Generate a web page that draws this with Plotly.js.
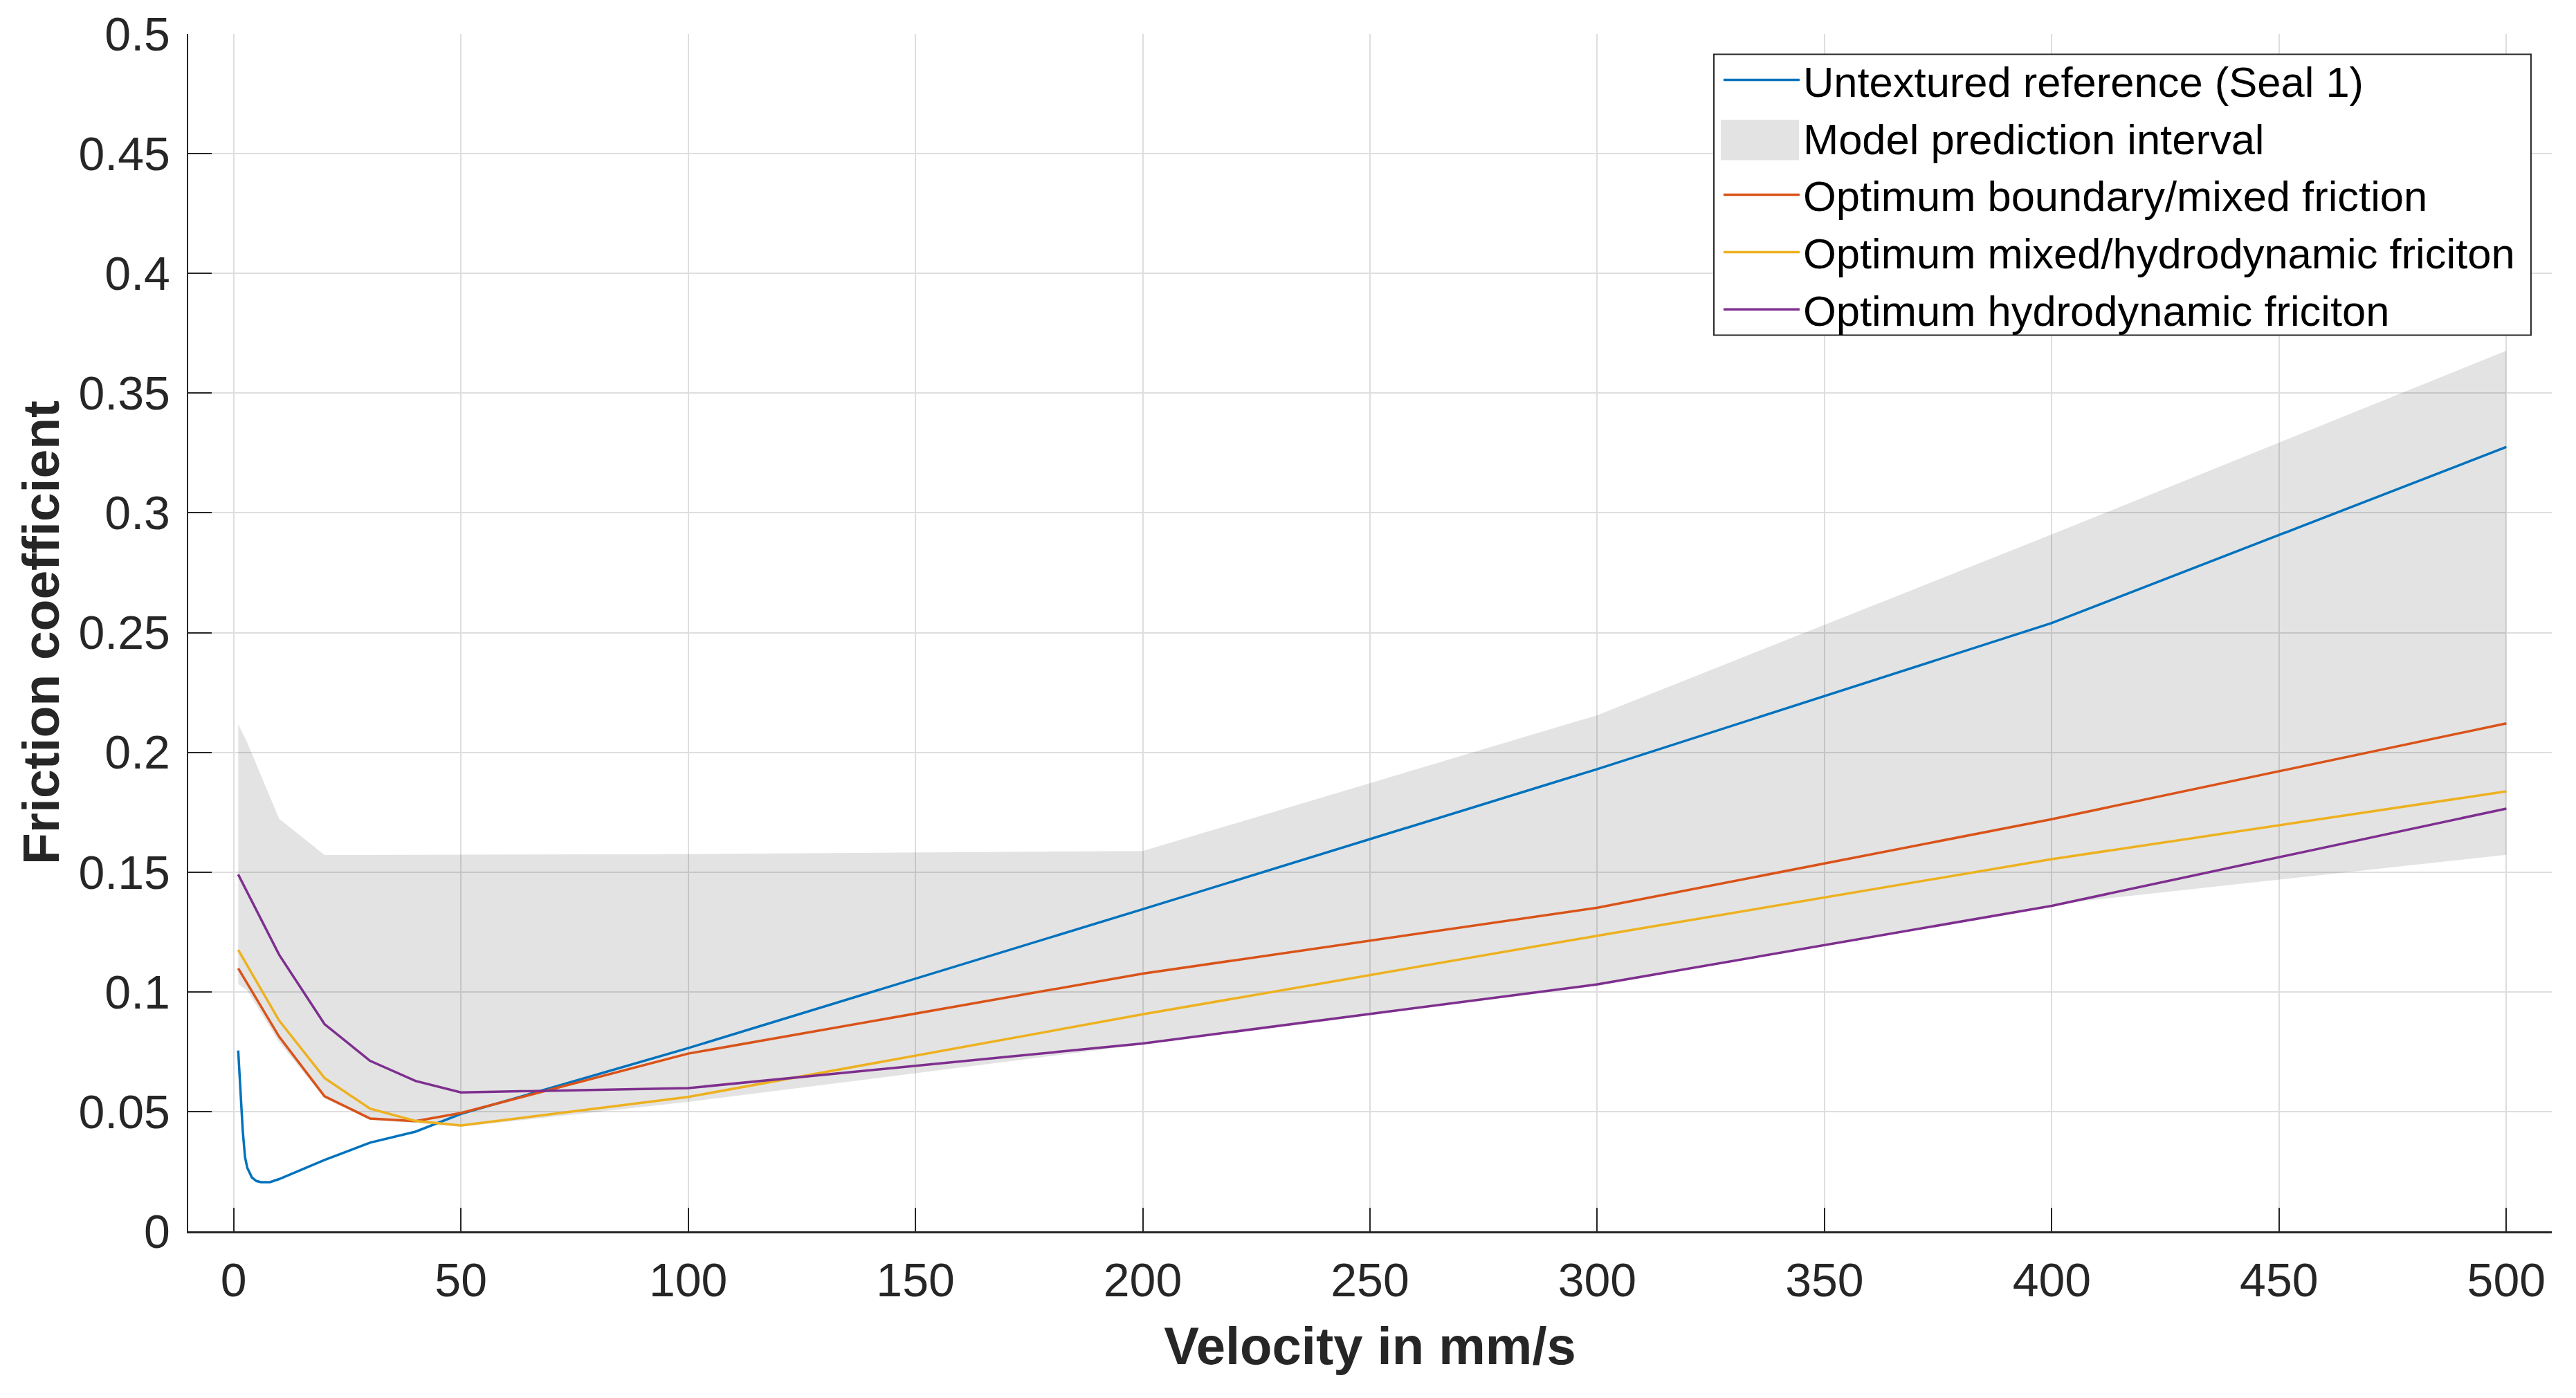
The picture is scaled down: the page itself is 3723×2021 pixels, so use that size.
<!DOCTYPE html>
<html>
<head>
<meta charset="utf-8">
<script src="https://cdn.plot.ly/plotly-3.0.1.min.js"></script>
<style>
html,body{margin:0;padding:0;background:#fff;}
#chart{width:3723px;height:2021px;}
</style>
</head>
<body>
<div id="chart"></div>
<script>
// ---- data ----
var velBlue = [1, 1.5, 2, 2.5, 3, 4, 5, 6, 8, 10, 20, 30, 40, 50, 100, 200, 300, 400, 500];
var fricBlue = [0.0755, 0.058, 0.042, 0.031, 0.0265, 0.0225, 0.021, 0.0205, 0.0205, 0.0218, 0.0298, 0.037, 0.0416, 0.049, 0.0765, 0.1345, 0.193, 0.254, 0.3275];

var velOpt = [1, 10, 20, 30, 40, 50, 100, 200, 300, 400, 500];
var fricBoundaryMixed = [0.1098, 0.0813, 0.0564, 0.0471, 0.0460, 0.0494, 0.0742, 0.1076, 0.1351, 0.1721, 0.2121];
var fricMixedHydro = [0.1175, 0.0880, 0.0640, 0.0512, 0.0461, 0.0442, 0.0561, 0.0906, 0.1234, 0.1554, 0.1837];
var fricHydro = [0.1490, 0.1155, 0.0865, 0.0712, 0.0628, 0.0580, 0.0598, 0.0784, 0.1031, 0.1359, 0.1765];

var velBandUpper = [1, 3, 10, 20, 100, 200, 300, 400, 500];
var fricBandUpper = [0.2117, 0.2040, 0.1723, 0.1571, 0.1575, 0.1588, 0.2155, 0.2910, 0.3677];
var velBandLower = [1, 3, 10, 20, 30, 40, 50, 100, 200, 300, 400, 500];
var fricBandLower = [0.1033, 0.1005, 0.0790, 0.0555, 0.0465, 0.0452, 0.0436, 0.0540, 0.0780, 0.1025, 0.1365, 0.1572];

var xTicks = [0, 50, 100, 150, 200, 250, 300, 350, 400, 450, 500];
var yTicks = [0, 0.05, 0.1, 0.15, 0.2, 0.25, 0.3, 0.35, 0.4, 0.45, 0.5];
var yTickText = ['0', '0.05', '0.1', '0.15', '0.2', '0.25', '0.3', '0.35', '0.4', '0.45', '0.5'];

var names = ['Untextured reference (Seal 1)', 'Model prediction interval',
  'Optimum boundary/mixed friction', 'Optimum mixed/hydrodynamic friciton', 'Optimum hydrodynamic friciton'];
var colors = ['#0072BD', '#D95319', '#EDB120', '#7E2F8E'];
var bandFill = 'rgba(0,0,0,0.11)';

// closed polygon for the prediction band
var bandX = velBandUpper.concat(velBandLower.slice().reverse());
var bandY = fricBandUpper.concat(fricBandLower.slice().reverse());

var lw = 3.5;
var bandTrace = {x: bandX, y: bandY, type: 'scatter', mode: 'lines', name: names[1],
  fill: 'toself', fillcolor: bandFill, line: {width: 0, color: 'rgba(0,0,0,0)'},
  showlegend: false, hoverinfo: 'skip'};
// legend entry for the band (its swatch is drawn as a box below)
var bandLegend = {x: [null], y: [null], type: 'scatter', mode: 'lines', name: names[1],
  line: {width: 0, color: 'rgba(0,0,0,0)'}, legendrank: 2};

var traces = [
  bandTrace,
  {x: velBlue, y: fricBlue, type: 'scatter', mode: 'lines', name: names[0],
   line: {color: colors[0], width: lw}, legendrank: 1},
  bandLegend,
  {x: velOpt, y: fricBoundaryMixed, type: 'scatter', mode: 'lines', name: names[2],
   line: {color: colors[1], width: lw}, legendrank: 3},
  {x: velOpt, y: fricMixedHydro, type: 'scatter', mode: 'lines', name: names[3],
   line: {color: colors[2], width: lw}, legendrank: 4},
  {x: velOpt, y: fricHydro, type: 'scatter', mode: 'lines', name: names[4],
   line: {color: colors[3], width: lw}, legendrank: 5}
];

var axisColor = '#262626';
var layout = {
  width: 3723, height: 2021,
  margin: {l: 272, r: 35, t: 49, b: 241, pad: 0},
  paper_bgcolor: '#ffffff', plot_bgcolor: '#ffffff',
  font: {family: 'Liberation Sans, Arial, sans-serif', color: axisColor},
  showlegend: true,
  legend: {
    x: 0.6481, y: 0.9884, xanchor: 'left', yanchor: 'top',
    bgcolor: 'rgba(0,0,0,0)', borderwidth: 0,
    font: {family: 'Liberation Sans, Arial, sans-serif', size: 61.5, color: '#000000'},
    itemwidth: 110, tracegroupgap: 0
  },
  shapes: [
    // legend box
    {type: 'rect', xref: 'paper', yref: 'paper', x0: 0.6455, x1: 0.9912, y0: 0.7484, y1: 0.9829,
     fillcolor: '#ffffff', line: {color: axisColor, width: 2}, layer: 'above'},
    // band swatch in the legend
    {type: 'rect', xref: 'paper', yref: 'paper', x0: 0.6484, x1: 0.6815, y0: 0.8945, y1: 0.9282,
     fillcolor: bandFill, line: {width: 0}, layer: 'above'}
  ],
  xaxis: {
    range: [-10, 510], autorange: false,
    tickmode: 'array', tickvals: xTicks, ticktext: xTicks.map(String),
    ticks: 'inside', ticklen: 34, tickwidth: 2, tickcolor: axisColor,
    showline: true, linecolor: axisColor, linewidth: 2.5, mirror: false,
    showgrid: true, gridcolor: '#dedede', gridwidth: 2, zeroline: false,
    tickfont: {size: 68, color: axisColor},
    ticklabelstandoff: 10,
    title: {text: '<b>Velocity in mm/s</b>', font: {size: 76, color: axisColor}, standoff: 32}
  },
  yaxis: {
    range: [0, 0.5], autorange: false,
    tickmode: 'array', tickvals: yTicks, ticktext: yTickText,
    ticks: 'inside', ticklen: 34, tickwidth: 2, tickcolor: axisColor,
    showline: true, linecolor: axisColor, linewidth: 2.5, mirror: false,
    showgrid: true, gridcolor: '#dedede', gridwidth: 2, zeroline: false,
    tickfont: {size: 68, color: axisColor},
    ticklabelstandoff: 10,
    title: {text: '<b>Friction coefficient</b>', font: {size: 75, color: axisColor}, standoff: 4}
  }
};

Plotly.newPlot('chart', traces, layout, {displayModeBar: false, staticPlot: true});
</script>
</body>
</html>
